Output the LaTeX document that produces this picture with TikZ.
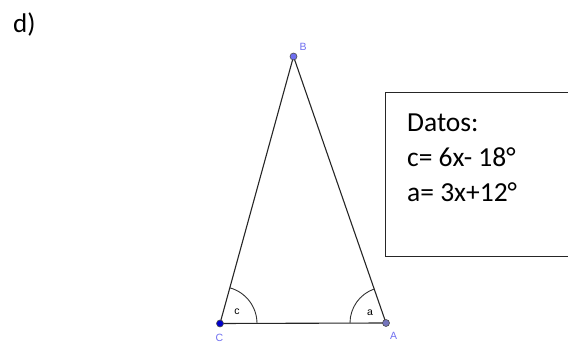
\documentclass[tikz,border=0pt]{standalone}
\usepackage{fontspec}
\usetikzlibrary{calc}
\setmainfont{Carlito}
\newfontfamily\labfont{Liberation Sans}
\definecolor{lblue}{RGB}{110,110,240}
\begin{document}
\begin{tikzpicture}[x=1pt,y=-1pt,
  side/.style={draw=black!85,line width=1.1pt},
  pt/.style={circle,inner sep=0pt,minimum size=7pt,draw=black!70,line width=0.6pt},
  ptlab/.style={font=\labfont\fontsize{10.5}{12}\selectfont,text=lblue,inner sep=0pt},
  anglab/.style={font=\labfont\fontsize{10.5}{12}\selectfont,inner sep=0pt},
  body/.style={font=\fontsize{27.5}{32}\selectfont,inner sep=0pt,anchor=base west}]
\useasboundingbox (0,0) rectangle (568,344);
\coordinate (Bc) at (293.5,56.5);
\coordinate (Cc) at (220,323.5);
\coordinate (Ac) at (386,323);
\draw[side] (Cc) -- (Bc) -- (Ac) -- cycle;
\draw[black!80,line width=0.9pt] ($(Cc)+(37,0)$) arc[start angle=0,end angle=-74.6,radius=37];
\draw[black!80,line width=0.9pt] ($(Ac)+(-36,0)$) arc[start angle=180,end angle=250.7,radius=36];
\node[pt,fill=blue!80!black] (C) at (Cc) {};
\node[pt,fill=blue!35!gray!80] (A) at (Ac) {};
\node[pt,fill=lblue] (B) at (Bc) {};
\node[ptlab] (Bl) at (303,46.5) {B};
\node[ptlab] (Cl) at (219.5,338) {C};
\node[ptlab] (Al) at (393.5,335.5) {A};
\node[anglab] (cl) at (237,312) {c};
\node[anglab] (al) at (370,313) {a};
\node[font=\fontsize{27}{32}\selectfont,inner sep=0pt,anchor=base west] (d) at (13,33) {d)};
\draw[black!85,line width=1pt] (570,93) -- (385,93) -- (385,257) -- (570,257);
\node[body] (t1) at (407,131.5) {Datos:};
\node[body] (t2) at (407,166.5) {c= 6x- 18°};
\node[body] (t3) at (407,201.5) {a= 3x+12°};
\end{tikzpicture}
\end{document}
